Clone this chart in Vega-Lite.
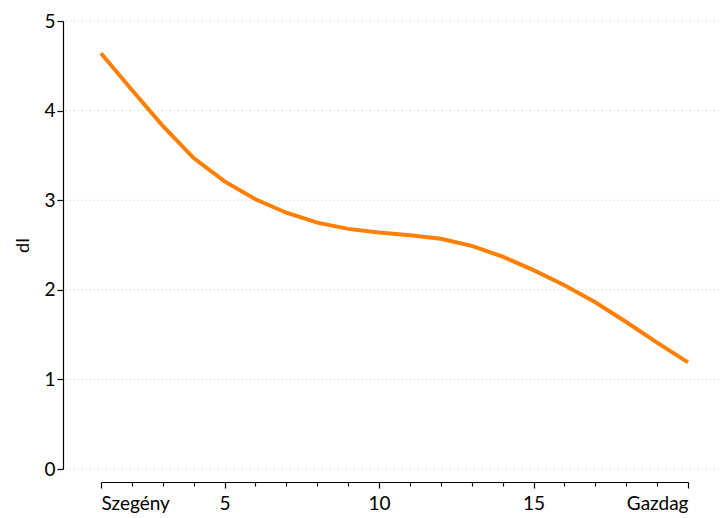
{
  "$schema": "https://vega.github.io/schema/vega-lite/v6.json",
  "autosize": "none",
  "width": 656,
  "height": 448,
  "padding": {"left": 63, "top": 21, "right": 2, "bottom": 49},
  "background": "white",
  "config": {
    "view": {"stroke": null},
    "font": "Lato",
    "axis": {"labelFont": "Lato", "titleFont": "Lato", "labelColor": "#000", "titleColor": "#000", "domainColor": "#000", "tickColor": "#000"}
  },
  "datasets": {
    "curve": [
      {"x": 1, "y": 4.64}, {"x": 2, "y": 4.23}, {"x": 3, "y": 3.83}, {"x": 4, "y": 3.47},
      {"x": 5, "y": 3.21}, {"x": 6, "y": 3.01}, {"x": 7, "y": 2.86}, {"x": 8, "y": 2.75},
      {"x": 9, "y": 2.68}, {"x": 10, "y": 2.64}, {"x": 11, "y": 2.61}, {"x": 12, "y": 2.57},
      {"x": 13, "y": 2.49}, {"x": 14, "y": 2.37}, {"x": 15, "y": 2.22}, {"x": 16, "y": 2.05},
      {"x": 17, "y": 1.86}, {"x": 18, "y": 1.64}, {"x": 19, "y": 1.41}, {"x": 20, "y": 1.19}
    ],
    "grid": [{"g": 0}, {"g": 1}, {"g": 2}, {"g": 3}, {"g": 4}, {"g": 5}]
  },
  "layer": [
    {
      "data": {"name": "grid"},
      "mark": {"type": "rule", "color": "#c8c8c8", "strokeDash": [1, 3], "strokeWidth": 1},
      "encoding": {
        "y": {"field": "g", "type": "quantitative", "scale": {"domain": [0, 5], "nice": false, "zero": true}}
      }
    },
    {
      "data": {"name": "curve"},
      "mark": {"type": "line", "color": "#FF8000", "strokeWidth": 4, "strokeCap": "butt"},
      "encoding": {
        "x": {
          "field": "x", "type": "quantitative",
          "scale": {"domain": [1, 20], "range": [38, 625], "nice": false, "zero": false},
          "axis": {
            "title": null, "offset": 13, "grid": false, "orient": "bottom",
            "values": [1, 5, 10, 15, 20],
            "tickSize": 6, "tickWidth": 1.2, "domainWidth": 1.2,
            "labelFontSize": 19, "labelPadding": 6,
            "labelExpr": "datum.value == 1 ? 'Szegény' : (datum.value == 20 ? 'Gazdag' : datum.label)"
          }
        },
        "y": {
          "field": "y", "type": "quantitative",
          "scale": {"domain": [0, 5], "nice": false, "zero": true},
          "axis": {
            "title": "dI", "titleFontSize": 18, "titleFontWeight": "normal", "titlePadding": 11,
            "values": [0, 1, 2, 3, 4, 5], "format": "d",
            "tickSize": 6, "tickWidth": 1.2, "domainWidth": 1.2,
            "labelFontSize": 19, "labelPadding": 2,
            "grid": false
          }
        }
      }
    },
    {
      "data": {"name": "curve"},
      "mark": {"type": "tick", "opacity": 0},
      "encoding": {
        "x": {
          "field": "x", "type": "quantitative",
          "axis": {
            "title": null, "offset": 13, "grid": false, "domain": false, "labels": false, "orient": "bottom",
            "values": [2, 3, 4, 6, 7, 8, 9, 11, 12, 13, 14, 16, 17, 18, 19],
            "tickSize": 4, "tickWidth": 1.2
          }
        }
      }
    }
  ],
  "resolve": {"axis": {"x": "independent"}}
}
